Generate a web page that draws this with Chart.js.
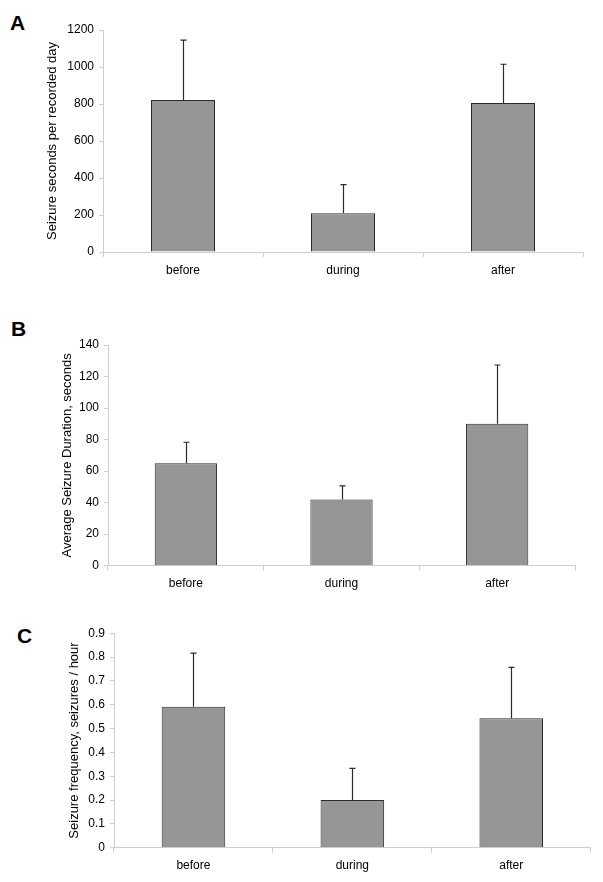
<!DOCTYPE html>
<html>
<head>
<meta charset="utf-8">
<script src="https://cdn.jsdelivr.net/npm/chart.js@4/dist/chart.umd.min.js"></script>
<style>
  html, body { margin: 0; padding: 0; background: #fff; }
  body { width: 603px; height: 882px; position: relative; overflow: hidden; font-family: "Liberation Sans", Arial, sans-serif; }
  canvas { position: absolute; left: 0; }
  .plabel { position: absolute; font: bold 21px/21px "Liberation Sans", Arial, sans-serif; color: #000; }
</style>
</head>
<body>
<div class="plabel" style="left:10px;top:12px;">A</div>
<div class="plabel" style="left:11px;top:318px;">B</div>
<div class="plabel" style="left:17px;top:625px;">C</div>
<canvas id="cA" width="603" height="300" style="top:0px"></canvas>
<canvas id="cB" width="603" height="300" style="top:300px"></canvas>
<canvas id="cC" width="603" height="282" style="top:600px"></canvas>
<script>
// ---- data ----
const categories = ['before', 'during', 'after'];

const secondsPerDay = [822, 210, 805];
const secondsPerDayErr = [1145, 364, 1015];

const avgDuration = [65, 42, 90];
const avgDurationErr = [78.3, 50.6, 127.3];

const frequency = [0.592, 0.2, 0.543];
const frequencyErr = [0.817, 0.333, 0.757];

const ticksA = [0, 200, 400, 600, 800, 1000, 1200];
const ticksB = [0, 20, 40, 60, 80, 100, 120, 140];
const ticksC = [0, 0.1, 0.2, 0.3, 0.4, 0.5, 0.6, 0.7, 0.8, 0.9];

// ---- styles ----
const FONT = "'Liberation Sans', Arial, sans-serif";
const AXIS_GREY = '#cfcfcf';
const BAR_FILL = '#969696';
const DARK = '#2b2b2b';

const errorBarPlugin = {
  id: 'errorBars',
  afterDatasetsDraw(chart) {
    const ctx = chart.ctx;
    const meta = chart.getDatasetMeta(0);
    const ys = chart.scales.y;
    const ds = chart.data.datasets[0];
    ctx.save();
    ctx.strokeStyle = DARK;
    ctx.lineWidth = 1.2;
    meta.data.forEach((bar, i) => {
      const x = Math.round(bar.x) + 0.5;
      const yTop = ys.getPixelForValue(ds.errHigh[i]);
      const yBase = ys.getPixelForValue(ds.data[i]);
      ctx.beginPath();
      ctx.moveTo(x, yBase);
      ctx.lineTo(x, yTop);
      ctx.moveTo(x - 3, yTop);
      ctx.lineTo(x + 3, yTop);
      ctx.stroke();
    });
    ctx.restore();
  }
};

function makeChart(id, values, errs, ticks, title, cfg) {
  const tickStep = ticks[1] - ticks[0];
  return new Chart(document.getElementById(id), {
    type: 'bar',
    data: {
      labels: categories,
      datasets: [{
        data: values,
        errHigh: errs,
        backgroundColor: BAR_FILL,
        borderColor: DARK,
        borderWidth: 1,
        borderSkipped: 'bottom',
        categoryPercentage: 0.4,
        barPercentage: 1.0
      }]
    },
    options: {
      responsive: false,
      animation: false,
      events: [],
      layout: { padding: { top: cfg.top, right: cfg.right, left: 0, bottom: 0 } },
      plugins: { legend: { display: false }, tooltip: { enabled: false }, title: { display: false } },
      scales: {
        x: {
          offset: true,
          border: { display: true, color: AXIS_GREY, width: 1 },
          grid: { display: true, offset: true, drawOnChartArea: false, drawTicks: true, tickLength: 5, color: AXIS_GREY },
          ticks: { color: '#000', font: { family: FONT, size: 12 }, padding: 6, maxRotation: 0 },
          afterFit(scale) { scale.height = cfg.xh; }
        },
        y: {
          min: ticks[0],
          max: ticks[ticks.length - 1],
          border: { display: true, color: AXIS_GREY, width: 1 },
          grid: { display: true, drawOnChartArea: false, drawTicks: true, tickLength: 4, color: AXIS_GREY },
          ticks: {
            stepSize: tickStep,
            color: '#000',
            font: { family: FONT, size: 12 },
            padding: 5,
            callback: (v) => {
              const t = ticks.find(tt => Math.abs(tt - v) < tickStep / 1000);
              return t === undefined ? null : String(t);
            }
          },
          title: {
            display: true,
            text: title,
            color: '#000',
            font: { family: FONT, size: 13 },
            padding: { top: cfg.titleOff, bottom: 0 }
          },
          afterFit(scale) { scale.width = cfg.yw; }
        }
      }
    },
    plugins: [errorBarPlugin]
  });
}

makeChart('cA', secondsPerDay, secondsPerDayErr, ticksA, 'Seizure seconds per recorded day',
  { top: 30, right: 20, yw: 103, xh: 48, titleOff: 45 });
makeChart('cB', avgDuration, avgDurationErr, ticksB, 'Average Seizure Duration, seconds',
  { top: 45, right: 28, yw: 108, xh: 34.3, titleOff: 59.5 });
makeChart('cC', frequency, frequencyErr, ticksC, 'Seizure frequency, seizures / hour',
  { top: 33.3, right: 12.3, yw: 114, xh: 34.3, titleOff: 67 });
</script>
</body>
</html>
